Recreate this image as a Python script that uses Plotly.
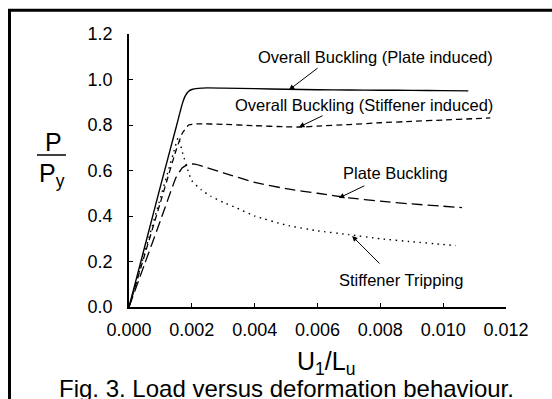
import plotly.graph_objects as go

# ---- data ----
x_plate_induced = [0, 0.0005, 0.0010, 0.0015, 0.0017, 0.0018, 0.0019, 0.0020, 0.0022, 0.0025,
                   0.0030, 0.0040, 0.0050, 0.0060, 0.0070, 0.0080, 0.0090, 0.0100, 0.0108]
y_plate_induced = [0, 0.265, 0.53, 0.79, 0.895, 0.93, 0.948, 0.956, 0.961, 0.963,
                   0.962, 0.96, 0.957, 0.955, 0.954, 0.953, 0.952, 0.951, 0.95]

x_stiff_induced = [0, 0.0005, 0.0010, 0.0015, 0.0017, 0.0019, 0.0022, 0.0030, 0.0040, 0.0050,
                   0.0055, 0.0060, 0.0070, 0.0080, 0.0090, 0.0100, 0.0110, 0.0115]
y_stiff_induced = [0, 0.23, 0.46, 0.69, 0.765, 0.80, 0.805, 0.803, 0.797, 0.792,
                   0.791, 0.795, 0.802, 0.81, 0.816, 0.822, 0.828, 0.831]

x_plate_buckling = [0, 0.0005, 0.0010, 0.0015, 0.0017, 0.0019, 0.0021, 0.0025, 0.0030, 0.0040,
                    0.0050, 0.0060, 0.0070, 0.0080, 0.0090, 0.0100, 0.0106]
y_plate_buckling = [0, 0.19, 0.38, 0.57, 0.612, 0.628, 0.628, 0.612, 0.59, 0.548,
                    0.52, 0.50, 0.48, 0.465, 0.453, 0.443, 0.437]

x_tripping = [0, 0.0005, 0.0010, 0.0014, 0.00157, 0.0017, 0.0019, 0.0020, 0.0023, 0.0026,
              0.0030, 0.0034, 0.0040, 0.0050, 0.0060, 0.0070, 0.0080, 0.0090, 0.0100, 0.0104]
y_tripping = [0, 0.24, 0.48, 0.67, 0.745, 0.68, 0.59, 0.555, 0.515, 0.487,
              0.46, 0.437, 0.40, 0.36, 0.335, 0.318, 0.30, 0.287, 0.275, 0.27]

x_ticks = [0, 0.002, 0.004, 0.006, 0.008, 0.010, 0.012]
x_tick_labels = ["0.000", "0.002", "0.004", "0.006", "0.008", "0.010", "0.012"]
y_ticks = [0, 0.2, 0.4, 0.6, 0.8, 1.0, 1.2]
y_tick_labels = ["0.0", "0.2", "0.4", "0.6", "0.8", "1.0", "1.2"]

labels = ["Overall Buckling (Plate induced)", "Overall Buckling (Stiffener induced)",
          "Plate Buckling", "Stiffener Tripping"]
label_x = [0.00786, 0.00748, 0.00847, 0.00866]
label_y = [1.099, 0.888, 0.589, 0.119]
arrow_tip_x = [0.00509, 0.00541, 0.00668, 0.0071]
arrow_tip_y = [0.954, 0.791, 0.479, 0.312]
arrow_tail_x = [0.00605, 0.00621, 0.00754, 0.00802]
arrow_tail_y = [1.055, 0.844, 0.536, 0.185]

FONT = "Liberation Sans, Arial, sans-serif"

fig = go.Figure()
fig.add_trace(go.Scatter(x=x_plate_induced, y=y_plate_induced, mode="lines",
                         line=dict(color="black", width=1.4, shape="spline", smoothing=0.4)))
fig.add_trace(go.Scatter(x=x_stiff_induced, y=y_stiff_induced, mode="lines",
                         line=dict(color="black", width=1.3, dash="6px,4px", shape="spline", smoothing=0.4)))
fig.add_trace(go.Scatter(x=x_plate_buckling, y=y_plate_buckling, mode="lines",
                         line=dict(color="black", width=1.3, dash="11px,5px", shape="spline", smoothing=0.4)))
fig.add_trace(go.Scatter(x=x_tripping, y=y_tripping, mode="lines",
                         line=dict(color="black", width=1.4, dash="1.5px,4.5px", shape="spline", smoothing=0.4)))

annotations = []
for t, lx, ly in zip(labels, label_x, label_y):
    annotations.append(dict(x=lx, y=ly, xref="x", yref="y", text=t, showarrow=False,
                            xanchor="center", yanchor="middle",
                            font=dict(size=16.5, color="black", family=FONT)))
for tx, ty, ax, ay in zip(arrow_tip_x, arrow_tip_y, arrow_tail_x, arrow_tail_y):
    annotations.append(dict(x=tx, y=ty, ax=ax, ay=ay, xref="x", yref="y", axref="x", ayref="y",
                            text="", showarrow=True, arrowhead=2, arrowsize=1.1, arrowwidth=1,
                            arrowcolor="black"))

L, T, W, H = 129, 34, 377, 273
def px(xp):
    return (xp - L) / W
def py(yp):
    return (T + H - yp) / H

# y-axis title as a fraction P / P_y
annotations.append(dict(x=px(53.5), y=py(142), xref="paper", yref="paper", text="P", showarrow=False,
                        xanchor="center", yanchor="middle",
                        font=dict(size=25, color="black", family=FONT)))
annotations.append(dict(x=px(37), y=py(175), xref="paper", yref="paper", xanchor="left",
                        yanchor="middle", text="P<sub>y</sub>", showarrow=False,
                        font=dict(size=25, color="black", family=FONT)))
# x-axis title
annotations.append(dict(x=px(326), y=py(363), xref="paper", yref="paper",
                        xanchor="center", yanchor="middle",
                        text="U<sub>1</sub>/L<sub>u</sub>", showarrow=False,
                        font=dict(size=25, color="black", family=FONT)))
# caption
annotations.append(dict(x=px(286), y=py(388), xref="paper", yref="paper",
                        xanchor="center", yanchor="middle",
                        text="Fig. 3. Load versus deformation behaviour.", showarrow=False,
                        font=dict(size=24, color="black", family=FONT)))

shapes = [
    dict(type="line", xref="paper", yref="paper", x0=px(37), x1=px(66), y0=py(155), y1=py(155),
         line=dict(color="black", width=1.5)),
    dict(type="line", xref="paper", yref="paper", x0=px(9.5), x1=px(9.5), y0=py(10.3), y1=py(405),
         line=dict(color="black", width=3)),
    dict(type="line", xref="paper", yref="paper", x0=px(8), x1=px(560), y0=py(10.3), y1=py(10.3),
         line=dict(color="black", width=3)),
]

fig.update_layout(
    width=552, height=399,
    margin=dict(l=L, r=552 - L - W, t=T, b=399 - T - H),
    paper_bgcolor="white", plot_bgcolor="white",
    showlegend=False,
    font=dict(family=FONT, color="black"),
    annotations=annotations,
    shapes=shapes,
    xaxis=dict(range=[0, 0.012], tickvals=x_ticks, ticktext=x_tick_labels,
               showgrid=False, zeroline=False, showline=True, linecolor="black", linewidth=1.5,
               ticks="inside", ticklen=4, tickwidth=1, tickcolor="black",
               tickfont=dict(size=18, color="black", family=FONT), ticklabelstandoff=6),
    yaxis=dict(range=[0, 1.2], tickvals=y_ticks, ticktext=y_tick_labels,
               showgrid=False, zeroline=False, showline=True, linecolor="black", linewidth=1.5,
               ticks="inside", ticklen=4, tickwidth=1, tickcolor="black",
               tickfont=dict(size=18, color="black", family=FONT), ticklabelstandoff=11),
)

fig.write_html("out.html", config={"displayModeBar": False},
               post_script="document.body.style.margin='0px';document.body.style.overflow='hidden';")
